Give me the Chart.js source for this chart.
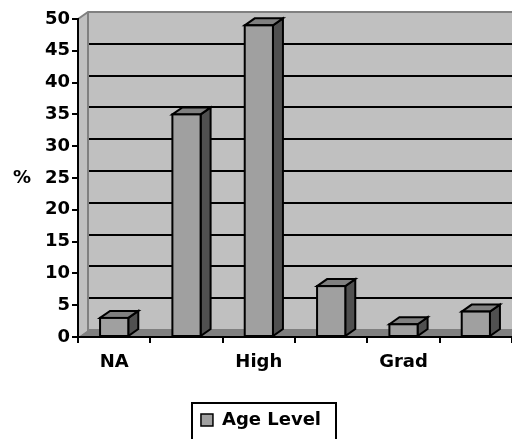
<!DOCTYPE html>
<html>
<head>
<meta charset="utf-8">
<script src="https://cdn.jsdelivr.net/npm/chart.js@4.4.1/dist/chart.umd.min.js"></script>
<style>
  html, body { margin: 0; padding: 0; background: #ffffff; }
  #wrap { width: 512px; height: 439px; }
</style>
</head>
<body>
<div id="wrap"><canvas id="c" width="512" height="439"></canvas></div>
<script>
// Age level distribution (percent of respondents)
const categories = ['NA', '', 'High', '', 'Grad', ''];
const ageLevel = [3, 35, 49, 8, 2, 4];
const yTicks = [0, 5, 10, 15, 20, 25, 30, 35, 40, 45, 50];
const seriesName = 'Age Level';

const FONT = { family: '"DejaVu Sans", "Liberation Sans", Arial, sans-serif', size: 18, weight: 'bold' };
const DEPTH = { dx: 10, dy: -7 };
const COLORS = {
  wall: '#c0c0c0',
  wallEdge: '#808080',
  floor: '#808080',
  grid: '#000000',
  front: '#a0a0a0',
  top: '#808080',
  side: '#505050'
};

// Walls, floor and gridlines behind the columns
const wallsPlugin = {
  id: 'walls',
  beforeDraw(chart) {
    const { ctx, chartArea: a, scales: { y } } = chart;
    const { dx, dy } = DEPTH;
    const top = y.getPixelForValue(50);
    const bot = y.getPixelForValue(0);
    ctx.save();
    // back wall
    ctx.fillStyle = COLORS.wall;
    ctx.fillRect(a.left + dx, top + dy, a.right - a.left - dx, bot - top);
    // side wall
    ctx.beginPath();
    ctx.moveTo(a.left, top);
    ctx.lineTo(a.left + dx, top + dy);
    ctx.lineTo(a.left + dx, bot + dy);
    ctx.lineTo(a.left, bot);
    ctx.closePath();
    ctx.fill();
    // floor
    ctx.fillStyle = COLORS.floor;
    ctx.beginPath();
    ctx.moveTo(a.left, bot);
    ctx.lineTo(a.left + dx, bot + dy);
    ctx.lineTo(a.right, bot + dy);
    ctx.lineTo(a.right, bot);
    ctx.closePath();
    ctx.fill();
    // wall edges
    ctx.strokeStyle = COLORS.wallEdge;
    ctx.lineWidth = 2;
    ctx.beginPath();
    ctx.moveTo(a.left, top);
    ctx.lineTo(a.left + dx, top + dy);
    ctx.lineTo(a.right, top + dy);
    ctx.moveTo(a.left + dx, top + dy);
    ctx.lineTo(a.left + dx, bot + dy);
    ctx.lineTo(a.right, bot + dy);
    ctx.stroke();
    // gridlines on the back wall
    ctx.strokeStyle = COLORS.grid;
    ctx.lineWidth = 2;
    ctx.beginPath();
    yTicks.forEach(v => {
      if (v === 0 || v === 50) return;
      const py = Math.round(y.getPixelForValue(v) + dy);
      ctx.moveTo(a.left + dx + 1, py);
      ctx.lineTo(a.right, py);
    });
    ctx.stroke();
    // "%" axis title
    ctx.fillStyle = '#000';
    ctx.font = `${FONT.weight} ${FONT.size}px ${FONT.family}`;
    ctx.textAlign = 'center';
    ctx.textBaseline = 'middle';
    ctx.fillText('%', 22, y.getPixelForValue(25));
    ctx.restore();
  }
};

// Columns drawn as boxes from the bar elements' geometry
const boxesPlugin = {
  id: 'boxes',
  afterDatasetsDraw(chart) {
    const { ctx } = chart;
    const { dx, dy } = DEPTH;
    const meta = chart.getDatasetMeta(0);
    ctx.save();
    ctx.lineWidth = 2;
    ctx.strokeStyle = '#000';
    ctx.lineJoin = 'miter';
    meta.data.forEach(bar => {
      const { x, y, base, width } = bar.getProps(['x', 'y', 'base', 'width'], true);
      const l = x - width / 2, r = x + width / 2;
      // side
      ctx.fillStyle = COLORS.side;
      ctx.beginPath();
      ctx.moveTo(r, y); ctx.lineTo(r + dx, y + dy); ctx.lineTo(r + dx, base + dy); ctx.lineTo(r, base);
      ctx.closePath(); ctx.fill(); ctx.stroke();
      // top
      ctx.fillStyle = COLORS.top;
      ctx.beginPath();
      ctx.moveTo(l, y); ctx.lineTo(l + dx, y + dy); ctx.lineTo(r + dx, y + dy); ctx.lineTo(r, y);
      ctx.closePath(); ctx.fill(); ctx.stroke();
      // front
      ctx.fillStyle = COLORS.front;
      ctx.fillRect(l, y, width, base - y);
      ctx.strokeRect(l, y, width, base - y);
    });
    ctx.restore();
  },
  afterDraw(chart) {
    // frame round the legend
    const lg = chart.legend;
    if (!lg || !lg.legendHitBoxes || !lg.legendHitBoxes.length) return;
    const hb = lg.legendHitBoxes[0];
    const { ctx } = chart;
    ctx.save();
    ctx.strokeStyle = '#000';
    ctx.lineWidth = 2;
    ctx.strokeRect(Math.round(hb.left - 9), Math.round(hb.top - 8), Math.round(hb.width + 24), 60);
    ctx.restore();
  }
};

new Chart(document.getElementById('c'), {
  type: 'bar',
  data: {
    labels: categories,
    datasets: [{
      label: seriesName,
      data: ageLevel,
      backgroundColor: 'rgba(0,0,0,0)',
      borderWidth: 0,
      categoryPercentage: 1,
      barPercentage: 0.39
    }]
  },
  options: {
    responsive: false,
    devicePixelRatio: 1,
    animation: false,
    layout: { padding: { left: 10, right: 0, top: 19, bottom: 0 } },
    plugins: {
      tooltip: { enabled: false },
      legend: {
        position: 'bottom',
        labels: {
          font: FONT,
          color: '#000',
          boxWidth: 12,
          boxHeight: 12,
          padding: 10,
          generateLabels: () => [{
            text: seriesName,
            fillStyle: COLORS.front,
            strokeStyle: '#000',
            lineWidth: 1.5,
            hidden: false,
            datasetIndex: 0
          }]
        }
      }
    },
    scales: {
      x: {
        offset: true,
        grid: { display: true, drawOnChartArea: false, offset: true, color: '#000', lineWidth: 2, tickLength: 6 },
        border: { display: true, color: '#000', width: 2 },
        ticks: { font: FONT, color: '#000', padding: 9, autoSkip: false, maxRotation: 0 },
        afterFit: s => { s.height = 64; }
      },
      y: {
        min: 0,
        max: 50,
        afterBuildTicks: s => { s.ticks = yTicks.map(v => ({ value: v })); },
        grid: { display: true, drawOnChartArea: false, color: '#000', lineWidth: 2, tickLength: 6 },
        border: { display: true, color: '#000', width: 2 },
        ticks: { font: FONT, color: '#000', padding: 2 },
        afterFit: s => { s.width = 68; }
      }
    }
  },
  plugins: [wallsPlugin, boxesPlugin]
});
</script>
</body>
</html>
